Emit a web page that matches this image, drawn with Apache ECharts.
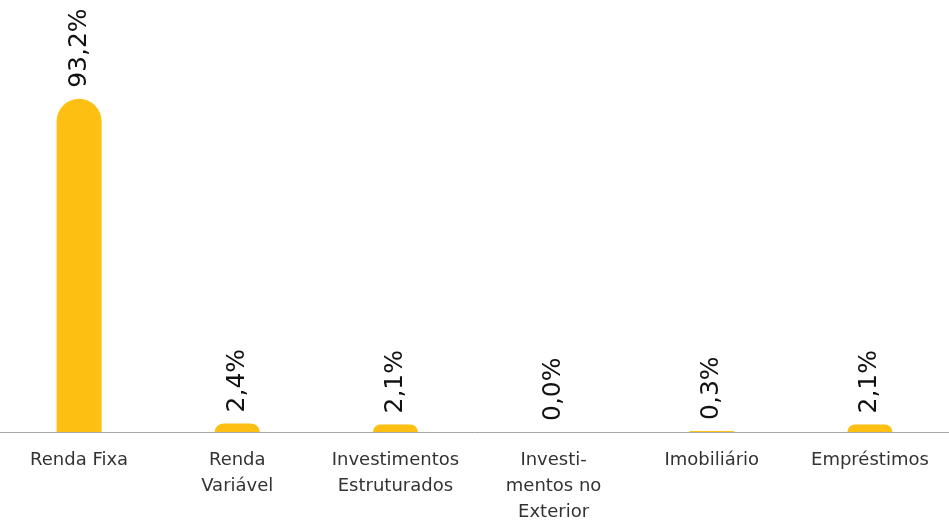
<!DOCTYPE html>
<html><head><meta charset="utf-8">
<script src="https://cdn.jsdelivr.net/npm/echarts@6/dist/echarts.min.js"></script>
<style>html,body{margin:0;padding:0;background:#fff}#c{width:949px;height:525px}</style>
</head><body><div id="c"></div>
<script>
var categories = ['Renda Fixa', 'Renda\nVariável', 'Investimentos\nEstruturados', 'Investi-\nmentos no\nExterior', 'Imobiliário', 'Empréstimos'];
var values = [93.2, 2.4, 2.1, 0.0, 0.3, 2.1];
var chart = echarts.init(document.getElementById('c'));
chart.setOption({
  animation: false,
  grid: {left: -8, right: 0, top: 74.5, bottom: 90, containLabel: false},
  xAxis: {
    type: 'category', data: categories,
    axisLine: {lineStyle: {color: '#a8a8a8', width: 1}},
    axisTick: {show: false},
    axisLabel: {interval: 0, color: '#333', fontSize: 18, fontFamily: 'DejaVu Sans', lineHeight: 26, margin: 15}
  },
  yAxis: {type: 'value', min: 0, max: 100, show: false, splitLine: {show: false}},
  series: [{
    type: 'bar', data: values, barWidth: 45,
    itemStyle: {color: '#FDC012', borderRadius: [23, 23, 0, 0]},
    label: {
      show: true, position: 'top', rotate: 90, align: 'left', verticalAlign: 'middle',
      distance: 11, color: '#111', fontSize: 25, fontFamily: 'DejaVu Sans',
      formatter: function (p) { return p.value.toFixed(1).replace('.', ',') + '%'; }
    }
  }]
});
</script></body></html>
